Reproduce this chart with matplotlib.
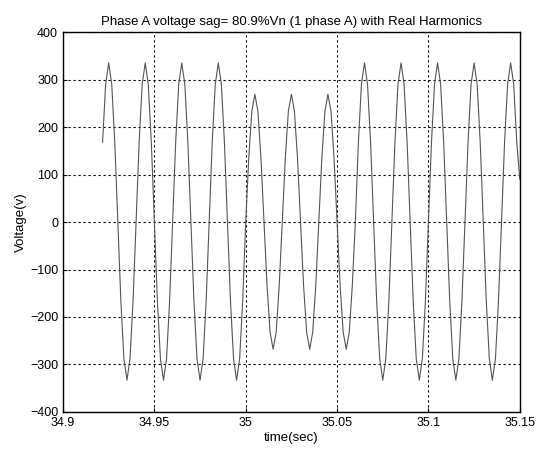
import numpy as np
import matplotlib
matplotlib.use("Agg")
import matplotlib.pyplot as plt

plt.rcParams['font.family'] = ['Liberation Sans', 'DejaVu Sans']

t_start = 34.9 + 13 / 600.0
fs = 600.0
volts = [168, 290,
         # normal cycles (peaks 34.925, 34.945, 34.965)
         335, 290, 168, 0, -167, -288, -333, -288, -167, 0, 168, 290,
         335, 290, 168, 0, -167, -288, -333, -288, -167, 0, 168, 290,
         335, 290, 168, 0, -167, -288, -333, -288, -167, 0, 168, 290,
         # last cycle before sag
         335, 290, 168, 0, -167, -288, -333, -288, -167, 0, 135, 233,
         # sag (80.9 %)
         269, 233, 135, 0, -134, -232, -268, -232, -134, 0, 135, 233,
         269, 233, 135, 0, -134, -232, -268, -232, -134, 0, 135, 233,
         269, 233, 135, 0, -134, -232, -268, -232, -134, 0, 168, 290,
         # recovery
         335, 290, 168, 0, -167, -288, -333, -288, -167, 0, 168, 290,
         335, 290, 168, 0, -167, -288, -333, -288, -167, 0, 168, 290,
         335, 290, 168, 0, -167, -288, -333, -288, -167, 0, 168, 290,
         335, 290, 168, 0, -167, -288, -333, -288, -167, 0, 168, 290,
         335, 290, 168, 90]
t = t_start + np.arange(len(volts)) / fs

xticks = [34.9, 34.95, 35.0, 35.05, 35.1, 35.15]
xlabels = ['34.9', '34.95', '35', '35.05', '35.1', '35.15']
yticks = [-400, -300, -200, -100, 0, 100, 200, 300, 400]

fig = plt.figure(figsize=(5.46, 4.51), dpi=100)
ax = fig.add_axes([0.1154, 0.0865, 0.8366, 0.8425])

ax.plot(t, volts, color='#555555', linewidth=0.8)

ax.set_xlim(34.9, 35.15)
ax.set_ylim(-400, 400)
ax.set_xticks(xticks)
ax.set_xticklabels(xlabels)
ax.set_yticks(yticks)
ax.tick_params(direction='in', labelsize=9, length=3, width=0.8)
ax.grid(True, color='black', linestyle=(0, (2, 2.5)), linewidth=0.8)
for s in ax.spines.values():
    s.set_linewidth(1.0)

ax.set_title('Phase A voltage sag= 80.9%Vn (1 phase A) with Real Harmonics', fontsize=9.5, pad=5)
ax.set_xlabel('time(sec)', fontsize=9.5, labelpad=2)
ax.set_ylabel('Voltage(v)', fontsize=9.5, labelpad=2)

fig.savefig('out.png', dpi=100)
